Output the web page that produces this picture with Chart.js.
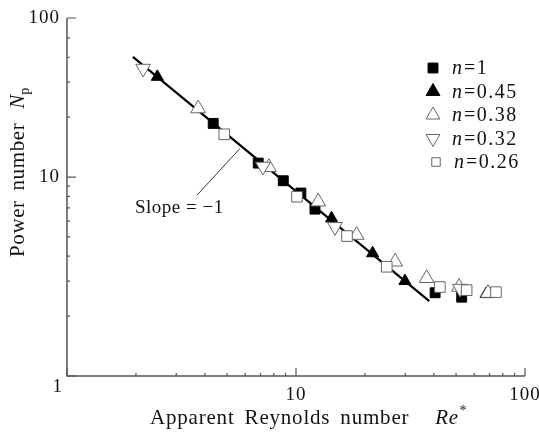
<!DOCTYPE html>
<html>
<head>
<meta charset="utf-8">
<script src="https://cdn.jsdelivr.net/npm/chart.js@4.4.0/dist/chart.umd.min.js"></script>
<style>
html,body{margin:0;padding:0;background:#fff;}
</style>
</head>
<body>
<canvas id="myChart" width="539" height="435"></canvas>
<script>
// values (Re*, Np) for each n
var reN100=[4.35,6.84,8.80,10.5,12.1,40.5,52.9];
var npN100=[18.6,11.75,9.58,8.31,6.9,2.62,2.49];
var reN045=[2.48,14.3,21.6,29.9,67.6];
var npN045=[31.9,6.2,4.14,3.0,2.58];
var reN038=[3.74,7.62,12.5,18.4,27.1,37.2,51.5,68.9];
var npN038=[22.1,11.2,7.52,5.11,3.75,3.10,2.80,2.61];
var reN032=[2.15,7.17,14.8,52.0];
var npN032=[35.1,11.3,5.62,2.75];
var reN026=[4.86,10.1,16.7,24.9,42.5,55.6,74.7];
var npN026=[16.4,7.96,5.05,3.54,2.80,2.70,2.64];

// slope = -1 line and its label
var slopeRe=[1.94,38.2];
var slopeNp=[40.2,2.38];
var leaderRe=[3.70,5.69];
var leaderNp=[8.12,13.9];
var slopeLabelAt=[1.98,6.98];

// axes
var xMin=1, xMax=100;
var yMin=1, yMax=63;
var xTicks=[1,10,100];
var xTickLabels=['1','10','100'];
var yTicks=[1,10,63];
var yTickLabels=['1','10','100'];
var xMinor=[2,3,4,5,6,7,8,9,20,30,40,50,60,70,80,90];
var yMinor=[2,3,4,5,6,7,8,9,20,30,40,50];

var legendNames=['n=1','n=0.45','n=0.38','n=0.32','n=0.26'];

function pts(xs,ys){
  return xs.map(function(v,i){return {x:v,y:ys[i]};});
}

var SERIF='"Liberation Serif","Times New Roman",serif';

var marks=[
  {style:'rect',rot:0,r:7,fill:'#000',line:'#000',order:5},
  {style:'triangle',rot:0,r:7,fill:'#000',line:'#000',order:5},
  {style:'triangle',rot:0,r:8.5,fill:'#fff',line:'#666',order:3},
  {style:'triangle',rot:180,r:8.5,fill:'#fff',line:'#666',order:2},
  {style:'rect',rot:0,r:7.5,fill:'#fff',line:'#666',order:1}
];
var seriesData=[pts(reN100,npN100),pts(reN045,npN045),pts(reN038,npN038),pts(reN032,npN032),pts(reN026,npN026)];

var datasets=seriesData.map(function(d,i){
  var m=marks[i];
  return {
    label:legendNames[i],
    data:d,
    showLine:false,
    pointStyle:m.style,
    rotation:m.rot,
    pointRadius:m.r,
    pointBackgroundColor:m.fill,
    pointBorderColor:m.line,
    pointBorderWidth:1,
    order:m.order
  };
});
datasets.push({
  label:'slope',
  data:pts(slopeRe,slopeNp),
  showLine:true,
  borderColor:'#000',
  borderWidth:2.2,
  pointRadius:0,
  order:10
});
datasets.push({
  label:'leader',
  data:pts(leaderRe,leaderNp),
  showLine:true,
  borderColor:'#333',
  borderWidth:1,
  pointRadius:0,
  order:11
});

function marker(ctx,m,x,y,r){
  ctx.fillStyle=m.fill;
  ctx.strokeStyle=m.line;
  ctx.lineWidth=1;
  if(Chart.helpers && Chart.helpers.drawPoint){
    Chart.helpers.drawPoint(ctx,{pointStyle:m.style,rotation:m.rot,radius:r,borderWidth:1},x,y);
    return;
  }
  ctx.beginPath();
  if(m.style=='rect'){
    var s=r*Math.SQRT1_2;
    ctx.rect(x-s,y-s,2*s,2*s);
  } else {
    var sg=m.rot?-1:1;
    ctx.moveTo(x,y-sg*r);
    ctx.lineTo(x+r*0.866,y+sg*r/2);
    ctx.lineTo(x-r*0.866,y+sg*r/2);
    ctx.closePath();
  }
  ctx.fill();
  ctx.stroke();
}

function spaced(ctx,px,word){
  if('letterSpacing' in ctx) ctx.letterSpacing=px+'px';
  if('wordSpacing' in ctx) ctx.wordSpacing=(word||0)+'px';
}

var frame={
  id:'frame',
  afterDraw:function(chart){
    var ctx=chart.ctx, xs=chart.scales.x, ys=chart.scales.y, a=chart.chartArea;
    ctx.save();
    // axis lines
    ctx.strokeStyle='#555';
    ctx.lineWidth=1.5;
    ctx.beginPath();
    ctx.moveTo(a.left,a.top);
    ctx.lineTo(a.left,a.bottom);
    ctx.lineTo(a.right,a.bottom);
    ctx.stroke();
    // inward ticks
    ctx.lineWidth=1.2;
    ctx.beginPath();
    xTicks.forEach(function(v){
      var p=xs.getPixelForValue(v);
      ctx.moveTo(p,a.bottom);ctx.lineTo(p,a.bottom-8);
    });
    xMinor.forEach(function(v){
      var p=xs.getPixelForValue(v);
      ctx.moveTo(p,a.bottom);ctx.lineTo(p,a.bottom-3);
    });
    yTicks.forEach(function(v){
      var p=ys.getPixelForValue(v);
      ctx.moveTo(a.left,p);ctx.lineTo(a.left+9,p);
    });
    yMinor.forEach(function(v){
      var p=ys.getPixelForValue(v);
      ctx.moveTo(a.left,p);ctx.lineTo(a.left+3,p);
    });
    ctx.stroke();

    // tick labels
    ctx.fillStyle='#111';
    ctx.font='19px '+SERIF;
    spaced(ctx,1);
    ctx.textBaseline='middle';
    ctx.textAlign='center';
    xTicks.forEach(function(v,i){
      if(i==0) return;
      ctx.fillText(xTickLabels[i],xs.getPixelForValue(v),a.bottom+19);
    });
    ctx.textAlign='right';
    yTicks.forEach(function(v,i){
      var p=ys.getPixelForValue(v);
      if(i==0){ ctx.fillText(yTickLabels[i],a.left-4,a.bottom+11); return; }
      ctx.fillText(yTickLabels[i],a.left-7,p);
    });

    // x title
    ctx.textAlign='left';
    ctx.textBaseline='alphabetic';
    var tx=150, ty=424;
    ctx.font='21px '+SERIF;
    spaced(ctx,0.8,4);
    var t1='Apparent Reynolds number';
    ctx.fillText(t1,tx,ty);
    tx+=ctx.measureText(t1).width+26;
    ctx.font='italic 21px '+SERIF;
    spaced(ctx,0.5);
    ctx.fillText('Re',tx,ty);
    tx+=ctx.measureText('Re').width+1;
    ctx.font='14px '+SERIF;
    ctx.fillText('*',tx,ty-9);

    // y title
    ctx.save();
    ctx.translate(24,257);
    ctx.rotate(-Math.PI/2);
    ctx.font='21px '+SERIF;
    spaced(ctx,0.6,4);
    var t2='Power number';
    ctx.fillText(t2,0,0);
    var yx=ctx.measureText(t2).width+14;
    ctx.font='italic 21px '+SERIF;
    spaced(ctx,0);
    ctx.fillText('N',yx,0);
    yx+=ctx.measureText('N').width;
    ctx.font='14px '+SERIF;
    ctx.fillText('p',yx,5);
    ctx.restore();

    // slope label
    ctx.font='19px '+SERIF;
    spaced(ctx,0.5);
    ctx.textBaseline='middle';
    ctx.fillText('Slope = \u22121',xs.getPixelForValue(slopeLabelAt[0]),ys.getPixelForValue(slopeLabelAt[1]));

    // legend
    var lx=a.right-92, ly=a.top+50;
    legendNames.forEach(function(name,i){
      var y=ly+i*23.5;
      var r=marks[i].style=='rect'?(i==4?6:7):8;
      marker(ctx,marks[i],lx+(i==4?3:0),y,r);
      ctx.fillStyle='#111';
      var x=lx+19+(i==4?2:0);
      ctx.font='italic 20px '+SERIF;
      spaced(ctx,0);
      ctx.fillText('n',x,y+1);
      x+=ctx.measureText('n').width+2;
      ctx.font='20px '+SERIF;
      spaced(ctx,1.5);
      ctx.fillText('='+name.slice(2),x,y+1);
    });
    ctx.restore();
  }
};

var chart=new Chart(document.getElementById('myChart').getContext('2d'),{
  type:'scatter',
  data:{datasets:datasets},
  options:{
    responsive:false,
    animation:false,
    layout:{padding:{left:67,right:14,top:18,bottom:59}},
    plugins:{legend:{display:false},tooltip:{enabled:false}},
    scales:{
      x:{type:'logarithmic',min:xMin,max:xMax,display:false},
      y:{type:'logarithmic',min:yMin,max:yMax,display:false}
    }
  },
  plugins:[frame]
});
</script>
</body>
</html>
